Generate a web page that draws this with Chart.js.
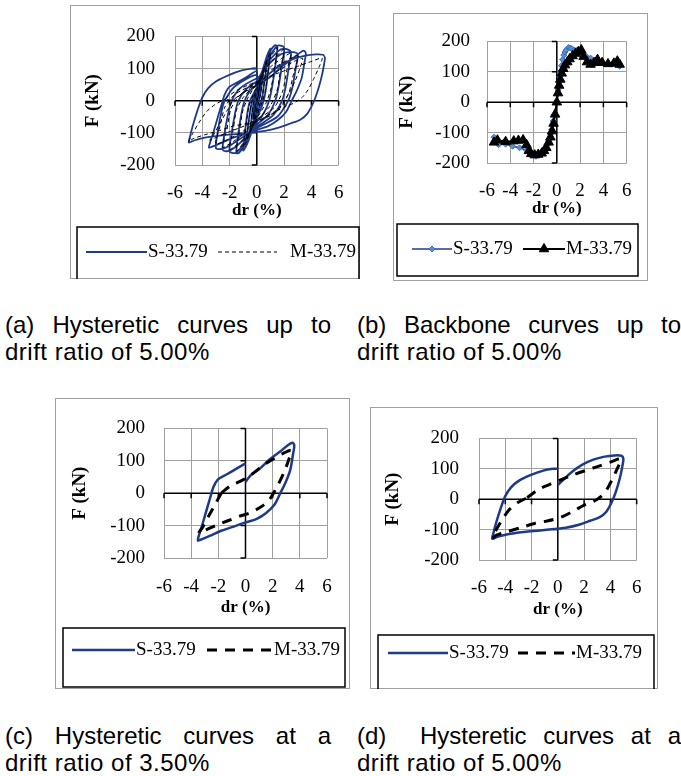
<!DOCTYPE html>
<html>
<head>
<meta charset="utf-8">
<script src="https://cdn.jsdelivr.net/npm/chart.js@4/dist/chart.umd.min.js"></script>
<style>
  html, body { margin: 0; padding: 0; background: #fff; }
  body { width: 681px; height: 776px; position: relative; overflow: hidden; }
  canvas { position: absolute; }
  .cap { position: absolute; font-family: "Liberation Sans", Arial, sans-serif; font-size: 24px;
         letter-spacing: 0.5px; line-height: 27px; color: #000; white-space: nowrap; }
  .cap .l1 { text-align: justify; text-align-last: justify; white-space: normal; letter-spacing: 0; }
</style>
</head>
<body>
<canvas id="pa"></canvas>
<canvas id="pb"></canvas>
<canvas id="pc"></canvas>
<canvas id="pd"></canvas>
<div class="cap" style="left:5px;top:311px;width:326px;"><div class="l1">(a) Hysteretic curves up to</div><div>drift ratio of 5.00%</div></div>
<div class="cap" style="left:357px;top:311px;width:324px;"><div class="l1">(b) Backbone curves up to</div><div>drift ratio of 5.00%</div></div>
<div class="cap" style="left:5px;top:722px;width:326px;"><div class="l1">(c) Hysteretic curves at a</div><div>drift ratio of 3.50%</div></div>
<div class="cap" style="left:357px;top:722px;width:324px;"><div class="l1">(d)&nbsp; Hysteretic curves at a</div><div>drift ratio of 5.00%</div></div>
<script>
// Axis tick values (drift ratio in %, lateral force in kN)
const DRIFT_TICKS = [-6, -4, -2, 0, 2, 4, 6];
const FORCE_TICKS = [-200, -100, 0, 100, 200];

// Series names
const NAME_S = 'S-33.79';
const NAME_M = 'M-33.79';

// ---- Cycle at 3.50 % drift: [drift %, force kN] ----
const loop350S = [[0,35],[0.42,57],[1.03,75],[1.77,104],[2.5,127],[3.12,148],[3.44,156],[3.59,148],[3.49,118],
  [3.29,71],[2.95,33],[2.56,0],[2.14,-35],[1.52,-61],[0.79,-80],[0,-90],[-0.93,-104],[-1.79,-116],[-2.65,-132],
  [-3.27,-143],[-3.51,-146],[-3.44,-132],[-3.19,-99],[-2.9,-57],[-2.6,-14],[-2.36,19],[-2.04,42],[-1.43,57],
  [-0.69,75],[0,92]];
const loop350M = [[-1.79,0],[-1.06,24],[-0.32,38],[0.42,57],[1.28,85],[2.14,108],[2.87,125],[3.37,132],[3.19,104],
  [2.8,61],[2.31,19],[1.77,-19],[1.15,-42],[0.29,-61],[-0.44,-71],[-1.3,-85],[-2.16,-99],[-2.9,-113],[-3.44,-123],
  [-3.14,-104],[-2.65,-66],[-2.21,-33],[-1.79,0]];

// ---- Cycle at 5.00 % drift ----
const loop500S = [[0,47],[0.49,67],[1.11,91],[1.84,113],[2.7,130],[3.56,140],[4.3,144],[4.84,143],[4.99,133],
  [4.91,108],[4.72,69],[4.42,25],[4.1,-10],[3.69,-41],[3.19,-59],[2.46,-71],[1.6,-84],[0.61,-94],[0,-97],
  [-1.35,-103],[-2.58,-108],[-3.81,-115],[-4.55,-123],[-4.99,-130],[-4.91,-113],[-4.67,-74],[-4.35,-30],
  [-4.0,10],[-3.56,39],[-2.95,61],[-2.09,79],[-1.11,94],[-0.37,100],[0,100]];
const loop500M = [[-2.33,5],[-1.47,32],[-0.61,49],[0.25,64],[1.11,79],[2.09,94],[3.07,108],[4.05,123],[4.79,133],
  [4.55,103],[4.18,69],[3.76,34],[3.32,10],[2.7,-8],[1.97,-20],[1.11,-41],[0.25,-59],[-0.74,-71],[-1.72,-79],
  [-2.83,-94],[-3.81,-106],[-4.67,-118],[-4.99,-128],[-4.67,-99],[-4.18,-64],[-3.69,-34],[-3.07,-12],[-2.33,5]];

// ---- Earlier cycles (0.25 % to 3.00 % drift) ----
const loop025S = [[0,0],[0.1,25],[0.25,62],[0.2,40],[0.1,10],[0,-15],[-0.1,-30],[-0.25,-58],[-0.2,-35],[-0.1,-10],[0,10]];
const loop050S = [[0,10],[0.2,48],[0.4,85],[0.5,105],[0.42,72],[0.3,30],[0.15,0],[0,-25],[-0.2,-58],[-0.4,-88],
  [-0.5,-100],[-0.42,-68],[-0.3,-25],[-0.15,5],[0,25]];
const loop075S = [[0,25],[0.3,75],[0.6,118],[0.75,140],[0.68,100],[0.5,40],[0.35,0],[0,-40],[-0.35,-85],
  [-0.6,-118],[-0.75,-132],[-0.68,-92],[-0.5,-35],[-0.33,0],[0,35]];
const loop100S = [[0,35],[0.4,92],[0.75,140],[1.0,162],[0.9,115],[0.7,45],[0.5,0],[0.2,-35],[0,-50],[-0.4,-100],
  [-0.75,-138],[-1.0,-155],[-0.9,-108],[-0.7,-40],[-0.5,0],[-0.2,25],[0,40]];
const loop150S = [[0,40],[0.5,105],[1.0,155],[1.3,172],[1.5,170],[1.4,122],[1.15,50],[0.9,0],[0.5,-40],[0,-65],
  [-0.5,-108],[-1.0,-145],[-1.3,-162],[-1.5,-163],[-1.4,-116],[-1.15,-45],[-0.9,0],[-0.5,30],[0,50]];
const loop200S = [[0,50],[0.6,108],[1.2,155],[1.6,172],[2.0,165],[1.85,112],[1.6,45],[1.35,0],[0.8,-45],[0,-75],
  [-0.6,-112],[-1.2,-148],[-1.6,-163],[-2.0,-158],[-1.88,-110],[-1.6,-40],[-1.35,0],[-0.8,35],[0,60]];
const loop250S = [[0,60],[0.7,112],[1.5,152],[2.0,162],[2.5,152],[2.35,105],[2.1,40],[1.85,0],[1.2,-45],[0,-82],
  [-0.8,-115],[-1.6,-145],[-2.1,-157],[-2.5,-153],[-2.38,-105],[-2.1,-40],[-1.85,0],[-1.2,40],[0,70]];
const loop300S = [[0,65],[0.8,110],[1.8,145],[2.5,152],[3.0,146],[2.85,100],[2.6,40],[2.3,0],[1.5,-50],[0,-85],
  [-1.0,-112],[-2.0,-140],[-2.6,-150],[-3.0,-148],[-2.88,-100],[-2.6,-35],[-2.35,0],[-1.6,45],[0,80]];

const loop025M = [[0,0],[0.25,55],[0.15,25],[0,-5],[-0.25,-52],[-0.15,-20],[0,5]];
const loop050M = [[0,5],[0.25,55],[0.5,95],[0.35,45],[0.2,5],[0,-25],[-0.25,-60],[-0.5,-92],[-0.35,-40],[-0.2,0],[0,25]];
const loop075M = [[0,25],[0.4,82],[0.75,128],[0.58,70],[0.4,15],[0,-35],[-0.4,-85],[-0.75,-122],[-0.58,-65],[-0.4,-10],[0,35]];
const loop100M = [[0,35],[0.5,98],[1.0,150],[0.8,85],[0.6,25],[0.3,-15],[0,-45],[-0.5,-100],[-1.0,-145],[-0.8,-80],
  [-0.6,-20],[-0.3,15],[0,45]];
const loop150M = [[0,45],[0.6,105],[1.5,165],[1.3,105],[1.05,40],[0.7,-5],[0,-55],[-0.7,-112],[-1.5,-158],[-1.3,-100],
  [-1.05,-35],[-0.7,5],[0,55]];
const loop200M = [[0,50],[0.8,108],[2.0,160],[1.75,100],[1.5,35],[1.0,-15],[0,-60],[-0.8,-112],[-2.0,-152],
  [-1.75,-95],[-1.5,-30],[-1.0,10],[0,55]];
const loop250M = [[0,55],[1.0,105],[2.5,148],[2.2,95],[1.9,30],[1.3,-20],[0,-62],[-1.0,-105],[-2.5,-145],[-2.2,-90],
  [-1.9,-25],[-1.3,15],[0,55]];
const loop300M = [[0,55],[1.2,100],[3.0,140],[2.7,85],[2.35,25],[1.6,-25],[0,-65],[-1.2,-100],[-3.0,-135],[-2.7,-80],
  [-2.35,-20],[-1.6,20],[0,55]];

// ---- Backbone (envelope) curves ----
const backboneS = [[-5.4,-115],[-5.0,-140],[-4.6,-132],[-4.4,-138],[-3.8,-145],[-3.2,-150],[-2.6,-158],[-2.4,-165],
  [-2.2,-172],[-1.8,-178],[-1.4,-172],[-1.2,-165],[-1.0,-155],[-0.8,-140],[-0.7,-125],[-0.55,-105],[-0.45,-90],
  [-0.3,-62],[-0.2,-40],[0,0],[0.1,40],[0.18,65],[0.25,85],[0.32,102],[0.4,120],[0.5,140],[0.6,155],[0.7,165],
  [0.8,172],[1.0,180],[1.15,178],[1.3,176],[1.5,172],[1.7,170],[2.1,168],[2.5,152],[2.9,145],[3.4,140],[3.9,132],
  [4.4,128],[4.9,126],[5.4,118]];
const backboneM = [[-5.4,-132],[-5.1,-125],[-4.4,-130],[-3.7,-128],[-3.3,-126],[-2.9,-124],[-2.6,-140],[-2.4,-160],
  [-2.2,-170],[-1.9,-174],[-1.6,-172],[-1.3,-168],[-1.1,-160],[-0.9,-150],[-0.7,-132],[-0.55,-115],[-0.4,-95],
  [-0.28,-70],[-0.15,-40],[0,0],[0.1,30],[0.2,55],[0.3,75],[0.42,95],[0.55,110],[0.7,122],[0.9,132],[1.1,142],
  [1.35,152],[1.6,160],[1.85,166],[2.1,172],[2.3,150],[2.6,132],[2.9,124],[3.2,130],[3.5,140],[3.9,130],[4.4,126],
  [4.9,128],[5.2,135],[5.4,124]];

const BLUE = '#1f3b88';
const GRID = '#a0a0a0';
const SERIF = '"Liberation Serif", "Times New Roman", serif';

const toPts = arr => arr.map(([x, y]) => ({ x, y }));
const join = (...loops) => loops.flat();

// Axes drawn through the origin, with short tick marks
const zeroAxes = {
  id: 'zeroAxes',
  beforeDatasetsDraw(chart) {
    const { ctx, scales: { x, y } } = chart;
    const x0 = x.getPixelForValue(0), y0 = y.getPixelForValue(0);
    ctx.save();
    ctx.strokeStyle = '#000';
    ctx.lineWidth = 1.5;
    ctx.beginPath();
    ctx.moveTo(x.left, y0); ctx.lineTo(x.right, y0);
    ctx.moveTo(x0, y.top); ctx.lineTo(x0, y.bottom);
    x.ticks.forEach(t => { const p = x.getPixelForValue(t.value); ctx.moveTo(p, y0); ctx.lineTo(p, y0 + 5); });
    y.ticks.forEach(t => { const p = y.getPixelForValue(t.value); ctx.moveTo(x0 - 5, p); ctx.lineTo(x0, p); });
    ctx.stroke();
    ctx.restore();
  }
};

// Outer frame plus a boxed legend underneath the plot
function boxLegend(frame, box, items) {
  return {
    id: 'boxLegend',
    afterDraw(chart) {
      const ctx = chart.ctx;
      ctx.save();
      ctx.strokeStyle = GRID;
      ctx.lineWidth = 1;
      ctx.strokeRect(0.5, 0.5, chart.width - 1, chart.height - 1);
      ctx.strokeStyle = '#000';
      ctx.lineWidth = 1.5;
      ctx.strokeRect(box[0] - frame.x, box[1] - frame.y, box[2] - box[0], box[3] - box[1]);
      items.forEach(it => {
        const ds = chart.data.datasets[it.ds];
        const x1 = it.x1 - frame.x, x2 = it.x2 - frame.x, y = it.y - frame.y;
        ctx.save();
        ctx.strokeStyle = ds.borderColor;
        ctx.lineWidth = ds.borderWidth;
        ctx.setLineDash(ds.borderDash || []);
        ctx.beginPath(); ctx.moveTo(x1, y); ctx.lineTo(x2, y); ctx.stroke();
        ctx.restore();
        if (ds.pointRadius > 0) {
          ctx.save();
          ctx.fillStyle = ds.pointBackgroundColor;
          ctx.strokeStyle = ds.pointBorderColor;
          ctx.lineWidth = 1;
          Chart.helpers.drawPoint(ctx, { pointStyle: ds.pointStyle, radius: ds.pointRadius, rotation: 0, borderWidth: 1 }, (x1 + x2) / 2, y);
          ctx.restore();
        }
        ctx.fillStyle = '#000';
        ctx.font = '19px ' + SERIF;
        ctx.textBaseline = 'middle';
        ctx.fillText(ds.label, it.tx - frame.x, y);
      });
      ctx.restore();
    }
  };
}

function makePanel(id, frame, plot, lay, datasets, legendBox, legendItems) {
  const cv = document.getElementById(id);
  cv.width = frame.w; cv.height = frame.h;
  cv.style.left = frame.x + 'px'; cv.style.top = frame.y + 'px';
  const XH = 62;
  new Chart(cv, {
    type: 'scatter',
    data: { datasets },
    options: {
      responsive: false, animation: false, devicePixelRatio: 1,
      layout: { padding: { left: 0, top: plot.t - frame.y, right: frame.x + frame.w - plot.r,
                           bottom: frame.y + frame.h - plot.b - XH } },
      plugins: { legend: { display: false }, tooltip: { enabled: false } },
      elements: { line: { fill: false } },
      scales: {
        x: {
          type: 'linear', min: -6, max: 6,
          afterBuildTicks: s => { s.ticks = DRIFT_TICKS.map(v => ({ value: v })); },
          afterFit: s => { s.height = XH; },
          grid: { color: GRID, drawTicks: false }, border: { display: false },
          ticks: { padding: lay.xTickPad, font: { family: SERIF, size: 19 }, color: '#000', maxRotation: 0, autoSkip: false },
          title: { display: true, text: 'dr (%)', color: '#000', font: { family: SERIF, size: 17, weight: 'bold' },
                   padding: { top: 0, bottom: lay.xTitlePad } }
        },
        y: {
          type: 'linear', min: -200, max: 200,
          afterBuildTicks: s => { s.ticks = FORCE_TICKS.map(v => ({ value: v })); },
          afterFit: s => { s.width = plot.l - frame.x; },
          grid: { color: GRID, drawTicks: false }, border: { display: false },
          ticks: { padding: lay.yTickPad, font: { family: SERIF, size: 19 }, color: '#000', autoSkip: false },
          title: { display: true, text: 'F (kN)', color: '#000', font: { family: SERIF, size: 19, weight: 'bold' },
                   padding: { top: lay.yTitlePad, bottom: 0 } }
        }
      }
    },
    plugins: [zeroAxes, boxLegend(frame, legendBox, legendItems)]
  });
}

function lineSet(label, pts, style) {
  return Object.assign({ label, data: toPts(pts), showLine: true, pointRadius: 0, pointHoverRadius: 0,
    tension: 0.3, fill: false }, style);
}

// (a) full hysteresis
makePanel('pa', { x: 70, y: 5, w: 290, h: 274 }, { l: 175, t: 23, r: 342, b: 165 },
  { xTickPad: 16.6, xTitlePad: 5.8, yTickPad: 20, yTitlePad: 11.6 },
  [
    lineSet(NAME_S, join(loop025S, loop050S, loop075S, loop100S, loop150S, loop200S, loop250S, loop300S, loop350S, loop500S),
      { borderColor: BLUE, borderWidth: 1.8, order: 1, tension: 0.25 }),
    lineSet(NAME_M, join(loop025M, loop050M, loop075M, loop100M, loop150M, loop200M, loop250M, loop300M, loop350M, loop500M),
      { borderColor: '#000', borderWidth: 1, borderDash: [4, 3], order: 0, tension: 0.2 })
  ],
  [77, 227, 359, 282],
  [{ ds: 0, x1: 86, x2: 147, y: 252, tx: 148 }, { ds: 1, x1: 218, x2: 277, y: 252, tx: 290 }]);

// (b) backbone curves
makePanel('pb', { x: 393, y: 13, w: 255, h: 268 }, { l: 487, t: 33, r: 627, b: 163 },
  { xTickPad: 16.6, xTitlePad: 5.8, yTickPad: 17, yTitlePad: 2.6 },
  [
    lineSet(NAME_S, backboneS, { borderColor: BLUE, borderWidth: 1.5, order: 1, tension: 0,
      pointRadius: 3, pointStyle: 'rectRot', pointBackgroundColor: '#5b8fd0', pointBorderColor: '#3d6fb8', pointBorderWidth: 1 }),
    lineSet(NAME_M, backboneM, { borderColor: '#000', borderWidth: 2, order: 0, tension: 0,
      pointRadius: 5.5, pointStyle: 'triangle', pointBackgroundColor: '#000', pointBorderColor: '#000', pointBorderWidth: 1 })
  ],
  [397, 224, 638, 276],
  [{ ds: 0, x1: 412, x2: 452, y: 249, tx: 453 }, { ds: 1, x1: 523, x2: 565, y: 249, tx: 566 }]);

// (c) cycle at 3.50 %
makePanel('pc', { x: 55, y: 398, w: 295, h: 291 }, { l: 164, t: 416, r: 327, b: 558 },
  { xTickPad: 17.6, xTitlePad: 1.8, yTickPad: 19, yTitlePad: 13.6 },
  [
    lineSet(NAME_S, loop350S, { borderColor: BLUE, borderWidth: 2.5, order: 1 }),
    lineSet(NAME_M, loop350M, { borderColor: '#000', borderWidth: 3, borderDash: [10, 8], order: 0 })
  ],
  [63, 628, 345, 687],
  [{ ds: 0, x1: 72, x2: 135, y: 650, tx: 136 }, { ds: 1, x1: 207, x2: 273, y: 650, tx: 274 }]);

// (d) cycle at 5.00 %
makePanel('pd', { x: 370, y: 407, w: 288, h: 282 }, { l: 479, t: 425, r: 641, b: 560 },
  { xTickPad: 16.6, xTitlePad: 1.8, yTickPad: 20, yTitlePad: 11.6 },
  [
    lineSet(NAME_S, loop500S, { borderColor: BLUE, borderWidth: 2.5, order: 1 }),
    lineSet(NAME_M, loop500M, { borderColor: '#000', borderWidth: 3, borderDash: [10, 8], order: 0 })
  ],
  [378, 635, 654, 700],
  [{ ds: 0, x1: 388, x2: 448, y: 653, tx: 449 }, { ds: 1, x1: 518, x2: 575, y: 653, tx: 576 }]);
</script>
</body>
</html>
